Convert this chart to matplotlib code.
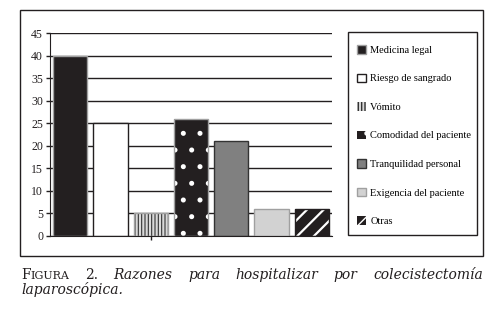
import matplotlib.pyplot as plt
from matplotlib.patches import Rectangle

labels = ['Medicina legal', 'Riesgo de sangrado', 'Vómito', 'Comodidad del paciente',
          'Tranquilidad personal', 'Exigencia del paciente', 'Otras']
values = [40, 25, 5, 26, 21, 6, 6]
yticks = [0, 5, 10, 15, 20, 25, 30, 35, 40, 45]

faces = ['#231f20', 'white', '#d9d9d9', '#231f20', '#808080', '#d2d2d2', '#231f20']
edges = ['#a0a0a0', '#231f20', '#a0a0a0', '#a0a0a0', '#333333', '#a0a0a0', '#231f20']
hatches = [None, None, '|||||', '.', None, None, '//']
hatch_cols = [None, None, '#333333', 'white', None, None, 'white']
hatch_lws = [None, None, 0.8, 1.2, None, None, 1.6]

plt.rcParams['font.family'] = 'Liberation Serif'
plt.rcParams['hatch.linewidth'] = 1.0

W, H = 500, 315
fig = plt.figure(figsize=(W / 100, H / 100), dpi=100)


def fx(px):
    return px / W


def fy(py):
    return 1 - py / H


ax = fig.add_axes([fx(50), fy(236), fx(332) - fx(50), fy(33) - fy(236)])

handles = []
for i, v in enumerate(values):
    if hatches[i]:
        b = ax.bar(i, v, width=0.85, color=faces[i], edgecolor=hatch_cols[i],
                   linewidth=0, hatch=hatches[i], zorder=2)
        if hasattr(b[0], 'set_hatch_linewidth'):
            b[0].set_hatch_linewidth(hatch_lws[i])
        ax.bar(i, v, width=0.85, color='none', edgecolor=edges[i], linewidth=1, zorder=3)
    else:
        b = ax.bar(i, v, width=0.85, color=faces[i], edgecolor=edges[i],
                   linewidth=1, zorder=2)
    handles.append(b[0])

ax.set_xlim(-0.5, 6.5)
ax.set_ylim(0, 45)
ax.set_yticks(yticks)
ax.set_xticks([2])
ax.set_xticklabels([''])
ax.yaxis.grid(True, color='#231f20', linewidth=1)
ax.set_axisbelow(True)
for s in ['top', 'right']:
    ax.spines[s].set_visible(False)
ax.spines['left'].set_color('#231f20')
ax.spines['bottom'].set_color('#231f20')
ax.tick_params(axis='y', length=3, width=1, pad=2, labelsize=8.5, colors='#231f20')
ax.tick_params(axis='x', length=3, width=1, colors='#231f20')

leg = fig.legend(handles, labels, loc='upper left', bbox_to_anchor=(fx(352), fy(40)),
                 frameon=False, fontsize=7.5, handlelength=0.85, handleheight=0.85,
                 handletextpad=0.4, labelspacing=1.8, borderpad=0.5, borderaxespad=0)

# frames
fig.add_artist(Rectangle((fx(20), fy(256)), fx(483) - fx(20), fy(10) - fy(256),
                         transform=fig.transFigure, fill=False, lw=1, ec='#231f20'))
fig.add_artist(Rectangle((fx(348), fy(235)), fx(477) - fx(348), fy(32) - fy(235),
                         transform=fig.transFigure, fill=False, lw=1, ec='#231f20'))

# caption
r = fig.canvas.get_renderer()
cap_font = 'DejaVu Serif'


def draw_line(words, y, x0, x1=None):
    made = []
    for w in words:
        parts = []
        for txt, size, style in w:
            t = fig.text(0, 0, txt, fontsize=size, style=style, family=cap_font,
                         va='baseline', ha='left', color='#231f20')
            parts.append((t, t.get_window_extent(r).width))
        made.append(parts)
    wsum = [sum(p[1] for p in parts) for parts in made]
    gap = 4
    if x1 is not None and len(made) > 1:
        gap = (x1 - x0 - sum(wsum)) / (len(made) - 1)
    x = x0
    for parts, ww in zip(made, wsum):
        xx = x
        for t, tw in parts:
            t.set_position((fx(xx), fy(y)))
            xx += tw
        x += ww + gap


line1 = [[('F', 10, 'normal'), ('IGURA', 8, 'normal')],
         [('2.', 10, 'normal')],
         [('Razones', 10, 'italic')],
         [('para', 10, 'italic')],
         [('hospitalizar', 10, 'italic')],
         [('por', 10, 'italic')],
         [('colecistectomía', 10, 'italic')]]
line2 = [[('laparoscópica.', 10, 'italic')]]
draw_line(line1, 279, 21, 483)
draw_line(line2, 294, 21)

fig.savefig('out.png', dpi=100)
